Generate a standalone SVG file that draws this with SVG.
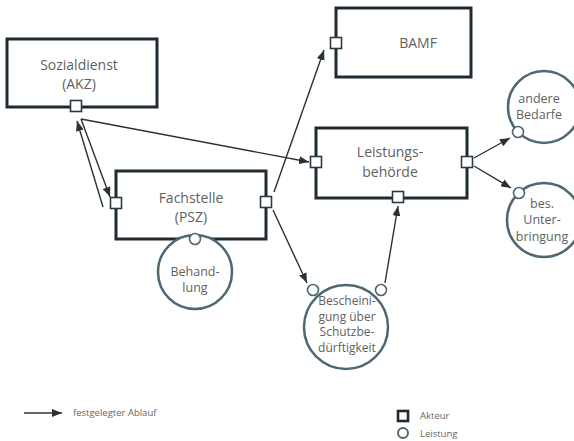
<svg xmlns="http://www.w3.org/2000/svg" width="574" height="441" viewBox="0 0 574 441">
<defs>
<marker id="ah" viewBox="0 0 10 8" refX="10" refY="4" markerWidth="10" markerHeight="8" markerUnits="userSpaceOnUse" orient="auto">
<path d="M0,0 L10,4 L0,8 Z" fill="#2a3236"/>
</marker>
<style>
.box{fill:#fff;stroke:#1f2b30;stroke-width:3}
.circ{fill:#fff;stroke:#4e6770;stroke-width:2.5}
.port{fill:#fff;stroke:#2a3a40;stroke-width:1.6}
.cport{fill:#fff;stroke:#4e6770;stroke-width:1.6}
.t{font-family:"Open Sans","Noto Sans",sans-serif;fill:#5f5f5f;text-anchor:middle}
.big{font-size:14px}
.sm{font-size:12.5px}
.xs{font-size:12px}
.leg{font-family:"Open Sans","Noto Sans",sans-serif;fill:#666;font-size:9.5px}
.ln{stroke:#2a3236;stroke-width:1.4;fill:none;marker-end:url(#ah)}
</style>
</defs>
<rect width="574" height="441" fill="#fff"/>
<g id="connectors">
<line class="ln" x1="103" y1="207" x2="77" y2="121"/>
<line class="ln" x1="81" y1="119" x2="110" y2="197"/>
<line class="ln" x1="81" y1="119" x2="309" y2="162"/>
<line class="ln" x1="274" y1="192" x2="324" y2="50"/>
<line class="ln" x1="273" y1="210" x2="307" y2="283"/>
<line class="ln" x1="385" y1="283" x2="398" y2="206"/>
<line class="ln" x1="474" y1="158" x2="510" y2="138"/>
<line class="ln" x1="474" y1="166" x2="511" y2="188"/>
</g>
<g id="sozialdienst">
<rect class="box" x="7" y="39" width="150" height="68"/>
<text class="t big" x="79" y="70">Sozialdienst</text>
<text class="t big" x="79" y="89">(AKZ)</text>
<rect class="port" x="70.5" y="100.5" width="11" height="11"/>
</g>
<g id="fachstelle">
<rect class="box" x="116" y="171" width="150" height="68"/>
<text class="t big" x="191" y="203">Fachstelle</text>
<text class="t big" x="191" y="222">(PSZ)</text>
<rect class="port" x="110.5" y="197.5" width="11" height="11"/>
<rect class="port" x="260.5" y="196.5" width="11" height="11"/>
</g>
<g id="behandlung">
<circle class="circ" cx="195" cy="272" r="37"/>
<circle class="cport" cx="195" cy="239" r="5.5"/>
<text class="t sm" x="195" y="276">Behand-</text>
<text class="t sm" x="195" y="292">lung</text>
</g>
<g id="bamf">
<rect class="box" x="336" y="8" width="135" height="69"/>
<text class="t big" x="418" y="48">BAMF</text>
<rect class="port" x="330.5" y="37.5" width="11" height="11"/>
</g>
<g id="leistungsbehoerde">
<rect class="box" x="316" y="128" width="151" height="70"/>
<text class="t big" x="390" y="157">Leistungs-</text>
<text class="t big" x="390" y="177">behörde</text>
<rect class="port" x="310.5" y="156.5" width="11" height="11"/>
<rect class="port" x="461.5" y="156.5" width="11" height="11"/>
<rect class="port" x="392.5" y="191.5" width="11" height="11"/>
</g>
<g id="andere-bedarfe">
<circle class="circ" cx="544" cy="107" r="36"/>
<circle class="cport" cx="518" cy="132" r="5.5"/>
<text class="t sm" x="539" y="103">andere</text>
<text class="t sm" x="539" y="119">Bedarfe</text>
</g>
<g id="unterbringung">
<circle class="circ" cx="544" cy="220" r="37"/>
<circle class="cport" cx="519" cy="193" r="5.5"/>
<text class="t sm" x="542" y="208">bes.</text>
<text class="t sm" x="542" y="224">Unter-</text>
<text class="t sm" x="542" y="241">bringung</text>
</g>
<g id="bescheinigung">
<circle class="circ" cx="346" cy="327" r="42"/>
<circle class="cport" cx="313" cy="290" r="5.5"/>
<circle class="cport" cx="381" cy="290" r="5.5"/>
<text class="t xs" x="347" y="305">Bescheini-</text>
<text class="t xs" x="347" y="320.5">gung über</text>
<text class="t xs" x="347" y="336">Schutzbe-</text>
<text class="t xs" x="347" y="352">dürftigkeit</text>
</g>
<g id="legend">
<line class="ln" x1="24" y1="413" x2="62" y2="413"/>
<text class="leg" x="73" y="416">festgelegter Ablauf</text>
<rect x="398" y="411" width="10" height="10" fill="#fff" stroke="#1f2b30" stroke-width="2.6"/>
<circle cx="403" cy="433" r="5" fill="#fff" stroke="#4e6770" stroke-width="2"/>
<text class="leg" x="420" y="419">Akteur</text>
<text class="leg" x="420" y="437">Leistung</text>
</g>
</svg>
